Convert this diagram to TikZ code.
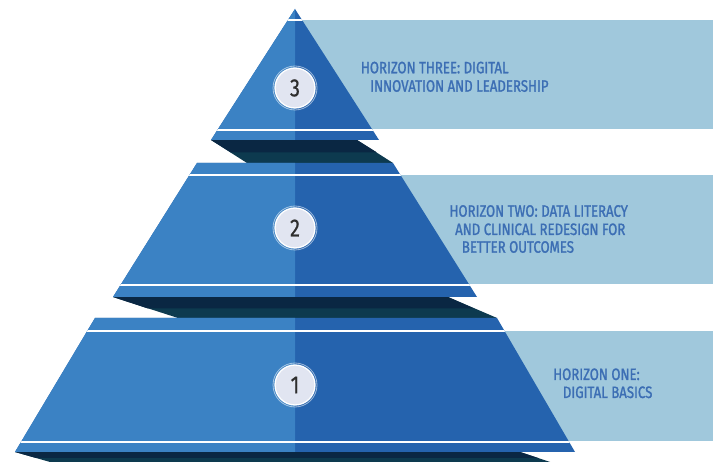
\documentclass[tikz,border=0pt]{standalone}
\usepackage{fontspec}
\newfontfamily\lblfont[FakeStretch=0.8, FakeBold=1.3]{Fira Sans}
\newfontfamily\numfont[FakeStretch=0.8, FakeBold=0.6]{Fira Sans}
\definecolor{tierL}{HTML}{3B82C4}
\definecolor{tierR}{HTML}{2563AE}
\definecolor{labelbg}{HTML}{A0C8DC}
\definecolor{labeltxt}{HTML}{3C6EB4}
\definecolor{shadeA}{HTML}{0A2743}
\definecolor{shadeB}{HTML}{0D3A4F}
\definecolor{badgefill}{HTML}{E1E5F1}
\definecolor{numtxt}{HTML}{2E2E2E}
\begin{document}
\begin{tikzpicture}[x=1pt,y=-1pt,
 labelline/.style={anchor=base west, inner sep=0pt, font=\lblfont\fontsize{16.5}{18}\selectfont, text=labeltxt},
 badge/.style={circle, minimum size=40pt, inner sep=0pt, fill=badgefill, draw=white, line width=1.3pt, font=\numfont\fontsize{25}{25}\selectfont, text=numtxt},
 halo/.style={draw=white, draw opacity=0.55, line width=0.8pt},
 gap/.style={white, line width=2pt}]
\useasboundingbox (0,0) rectangle (713,462);
\fill[white] (0,0) rectangle (713,462);
% label panels
\fill[labelbg] (295,20) rectangle (713,129);
\fill[labelbg] (295,175) rectangle (713,284);
\fill[labelbg] (295,331) rectangle (713,441);
% shadows (folds between tiers)
\fill[shadeB] (211,140) -- (357,140) -- (393,163) -- (247,163) -- cycle;
\fill[shadeA] (211,140) -- (357,140) -- (377,152.5) -- (231,152.5) -- cycle;
\fill[shadeB] (113,297) -- (448,297) -- (497,318) -- (178,318) -- cycle;
\fill[shadeA] (113,297) -- (448,297) -- (474,308.5) -- (148,308.5) -- cycle;
\fill[shadeB] (15,452) -- (520,452) -- (574,470) -- (78,470) -- cycle;
\fill[shadeA] (15,452) -- (520,452) -- (538,458) -- (36,458) -- cycle;
% tier 3
\fill[tierR] (295,9) -- (379,140) -- (211,140) -- cycle;
\fill[tierL] (295,9) -- (295,140) -- (211,140) -- cycle;
\begin{scope}
\clip (295,9) -- (379,140) -- (211,140) -- cycle;
\draw[gap] (0,20) -- (713,20);
\draw[gap] (0,130.5) -- (713,130.5);
\end{scope}
% tier 2
\fill[tierR] (197,163) -- (393,163) -- (477,297) -- (113,297) -- cycle;
\fill[tierL] (197,163) -- (295,163) -- (295,297) -- (113,297) -- cycle;
\begin{scope}
\clip (197,163) -- (393,163) -- (477,297) -- (113,297) -- cycle;
\draw[gap] (0,175.5) -- (713,175.5);
\draw[gap] (0,285) -- (713,285);
\end{scope}
% tier 1
\fill[tierR] (95,318) -- (497,318) -- (575,452) -- (15,452) -- cycle;
\fill[tierL] (95,318) -- (295,318) -- (295,452) -- (15,452) -- cycle;
\begin{scope}
\clip (95,318) -- (497,318) -- (575,452) -- (15,452) -- cycle;
\draw[gap] (0,331) -- (713,331);
\draw[gap] (0,442) -- (713,442);
\end{scope}
% badges
\draw[halo] (295,88) circle (22pt);
\draw[halo] (295,228) circle (22pt);
\draw[halo] (295,385) circle (22pt);
\node[badge] (b3) at (295,88) {3};
\node[badge] (b2) at (295,228) {2};
\node[badge] (b1) at (295,385) {1};
% labels
\node[labelline] (l3a) at (360.7,73.3) {HORIZON THREE: DIGITAL};
\node[labelline] (l3b) at (370,91.7) {INNOVATION AND LEADERSHIP};
\node[labelline] (l2a) at (449.3,216.7) {HORIZON TWO: DATA LITERACY};
\node[labelline] (l2b) at (455,235) {AND CLINICAL REDESIGN FOR};
\node[labelline] (l2c) at (461.7,252.7) {BETTER OUTCOMES};
\node[labelline] (l1a) at (553,380) {HORIZON ONE:};
\node[labelline] (l1b) at (562.7,398) {DIGITAL BASICS};
\end{tikzpicture}
\end{document}
